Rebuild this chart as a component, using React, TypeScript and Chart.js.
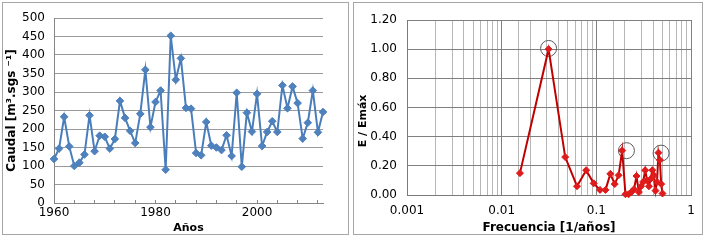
import { useEffect, useRef } from 'react';
import { Chart, registerables } from 'chart.js';

Chart.register(...registerables);
Chart.defaults.font.family = "'DejaVu Sans', Verdana, sans-serif";
Chart.defaults.color = '#000';

// ---- Left chart data: annual flow ----
const years = [
  1960, 1961, 1962, 1963, 1964, 1965, 1966, 1967, 1968, 1969,
  1970, 1971, 1972, 1973, 1974, 1975, 1976, 1977, 1978, 1979,
  1980, 1981, 1982, 1983, 1984, 1985, 1986, 1987, 1988, 1989,
  1990, 1991, 1992, 1993, 1994, 1995, 1996, 1997, 1998, 1999,
  2000, 2001, 2002, 2003, 2004, 2005, 2006, 2007, 2008, 2009,
  2010, 2011, 2012, 2013,
];
const caudal = [
  119, 147, 233, 153, 100, 109, 131, 237, 140, 182,
  179, 147, 173, 276, 230, 195, 162, 241, 360, 205,
  273, 304, 90, 452, 333, 391, 257, 255, 135, 129,
  219, 155, 150, 143, 183, 127, 298, 98, 244, 193,
  295, 154, 192, 221, 192, 318, 256, 315, 270, 174,
  217, 304, 191, 246,
];
const yearTickMarks = [1960, 1964, 1968, 1972, 1976, 1980, 1984, 1988, 1992, 1996, 2000, 2004, 2008, 2012];
const yearTickLabels = [1960, 1980, 2000];

// ---- Right chart data: normalized spectrum ----
const frecuencia = [
  0.0156, 0.0313, 0.0469, 0.0625, 0.0781, 0.0938, 0.1094, 0.125,
  0.1406, 0.1563, 0.1719, 0.1875, 0.2031, 0.2188, 0.2344, 0.25,
  0.2656, 0.2813, 0.2969, 0.3125, 0.3281, 0.3438, 0.3594, 0.375,
  0.3906, 0.4063, 0.4219, 0.4375, 0.4531, 0.4688, 0.4844, 0.5,
];
const energia = [
  0.15, 1.0, 0.26, 0.06, 0.17, 0.08, 0.035, 0.035,
  0.145, 0.075, 0.135, 0.305, 0.005, 0.005, 0.02, 0.04,
  0.13, 0.02, 0.06, 0.09, 0.17, 0.1, 0.06, 0.11,
  0.17, 0.135, 0.03, 0.09, 0.29, 0.24, 0.075, 0.01,
];
const picoFrecuencia = [0.0313, 0.208, 0.483];
const picoEnergia = [1.005, 0.304, 0.287];
const decadeLabels = ['0.001', '0.01', '0.1', '1'];
const energiaTicks = [0, 0.2, 0.4, 0.6, 0.8, 1.0, 1.2];

const isDecade = (v: number) => {
  const l = Math.log10(v);
  return Math.abs(l - Math.round(l)) < 1e-6;
};

export default function App() {
  const leftRef = useRef<HTMLCanvasElement>(null);
  const rightRef = useRef<HTMLCanvasElement>(null);

  useEffect(() => {
    const left = new Chart(leftRef.current!, {
      type: 'scatter',
      data: {
        datasets: [
          {
            data: years.map((y, i) => ({ x: y, y: caudal[i] })),
            showLine: true,
            borderColor: '#4A7EBB',
            borderWidth: 2,
            tension: 0,
            pointStyle: 'rectRot',
            pointRadius: 3.8,
            pointBackgroundColor: '#4F81BD',
            pointBorderColor: '#4A7EBB',
            pointBorderWidth: 1,
            clip: false,
          } as any,
        ],
      },
      options: {
        responsive: false,
        animation: false,
        devicePixelRatio: 1,
        layout: { padding: { left: 0, top: 18, right: 27, bottom: 0 } },
        plugins: { legend: { display: false }, tooltip: { enabled: false } },
        scales: {
          x: {
            type: 'linear',
            min: 1960,
            max: 2013,
            afterBuildTicks: (s: any) => {
              s.ticks = yearTickMarks.map((v) => ({ value: v }));
            },
            afterFit: (s: any) => {
              s.height = 38;
            },
            ticks: {
              autoSkip: false,
              maxRotation: 0,
              padding: 6,
              font: { size: 12 },
              color: '#000',
              callback: (v: any) => (yearTickLabels.includes(Number(v)) ? String(v) : ''),
            },
            grid: { drawOnChartArea: false, drawTicks: true, tickLength: -3, color: '#868686' },
            border: { color: '#868686' },
            title: {
              display: true,
              text: 'Años',
              font: { size: 11, weight: 'bold' },
              padding: { top: 0, bottom: 6.4 },
              color: '#000',
            },
          },
          y: {
            min: 0,
            max: 500,
            afterFit: (s: any) => {
              s.width = 54;
            },
            ticks: { stepSize: 50, padding: 9, font: { size: 12 }, color: '#000' },
            grid: { color: '#9a9a9a', drawTicks: false, lineWidth: 1 },
            border: { color: '#868686' },
            title: {
              display: true,
              text: 'Caudal [m³.sgs ⁻¹]',
              font: { size: 12, weight: 'bold' },
              padding: { top: 5, bottom: 0 },
              color: '#000',
            },
          },
        },
      } as any,
    });

    const right = new Chart(rightRef.current!, {
      type: 'scatter',
      data: {
        datasets: [
          {
            data: frecuencia.map((f, i) => ({ x: f, y: energia[i] })),
            showLine: true,
            borderColor: '#C00000',
            borderWidth: 2,
            tension: 0,
            pointStyle: 'rectRot',
            pointRadius: 3.5,
            pointBackgroundColor: '#E01B1B',
            pointBorderColor: '#E01B1B',
            pointBorderWidth: 1,
            clip: false,
          } as any,
          {
            data: picoFrecuencia.map((f, i) => ({ x: f, y: picoEnergia[i] })),
            showLine: false,
            pointStyle: 'circle',
            pointRadius: 8,
            pointBackgroundColor: 'rgba(0,0,0,0)',
            pointBorderColor: '#5a5a5a',
            pointBorderWidth: 1,
            clip: false,
          } as any,
        ],
      },
      options: {
        responsive: false,
        animation: false,
        devicePixelRatio: 1,
        layout: { padding: { left: 0, top: 20, right: 18, bottom: 0 } },
        plugins: { legend: { display: false }, tooltip: { enabled: false } },
        scales: {
          x: {
            type: 'logarithmic',
            min: 0.001,
            max: 1,
            afterFit: (s: any) => {
              s.height = 46;
            },
            ticks: {
              autoSkip: false,
              maxRotation: 0,
              padding: 9,
              font: { size: 12 },
              color: '#000',
              callback: (v: any) => {
                const n = Number(v);
                if (!isDecade(n)) return '';
                const idx = Math.round(Math.log10(n)) + 3;
                return decadeLabels[idx] ?? '';
              },
            },
            grid: {
              drawTicks: false,
              lineWidth: 1,
              color: (ctx: any) => (ctx.tick && isDecade(ctx.tick.value) ? '#808080' : '#b6b6b6'),
            },
            border: { color: '#7a7a7a' },
            title: {
              display: true,
              text: 'Frecuencia [1/años]',
              font: { size: 12, weight: 'bold' },
              padding: { top: 0, bottom: 5.5 },
              color: '#000',
            },
          },
          y: {
            type: 'linear',
            min: 0,
            max: 1.2,
            afterBuildTicks: (s: any) => {
              s.ticks = energiaTicks.map((v) => ({ value: v }));
            },
            afterFit: (s: any) => {
              s.width = 57;
            },
            ticks: {
              padding: 10,
              font: { size: 12 },
              color: '#000',
              callback: (v: any) => Number(v).toFixed(2),
            },
            grid: { color: '#808080', lineWidth: 1, drawTicks: false },
            border: { color: '#7a7a7a' },
            title: {
              display: true,
              text: 'E / Emáx       ',
              font: { size: 11, weight: 'bold' },
              padding: { top: 7, bottom: 0 },
              color: '#000',
            },
          },
        },
      } as any,
    });

    return () => {
      left.destroy();
      right.destroy();
    };
  }, []);

  return (
    <div style={{ position: 'fixed', left: 0, top: 0, width: 709, height: 241, background: '#fff' }}>
      <canvas
        ref={leftRef}
        width={350}
        height={241}
        style={{ position: 'absolute', left: 0, top: 0, width: 350, height: 241 }}
      />
      <canvas
        ref={rightRef}
        width={359}
        height={241}
        style={{ position: 'absolute', left: 350, top: 0, width: 359, height: 241 }}
      />
      <div
        style={{
          position: 'absolute',
          left: 2,
          top: 2,
          width: 345,
          height: 231,
          border: '1px solid #a6a6a6',
          pointerEvents: 'none',
        }}
      />
      <div
        style={{
          position: 'absolute',
          left: 353,
          top: 2,
          width: 348,
          height: 231,
          border: '1px solid #a6a6a6',
          pointerEvents: 'none',
        }}
      />
    </div>
  );
}
